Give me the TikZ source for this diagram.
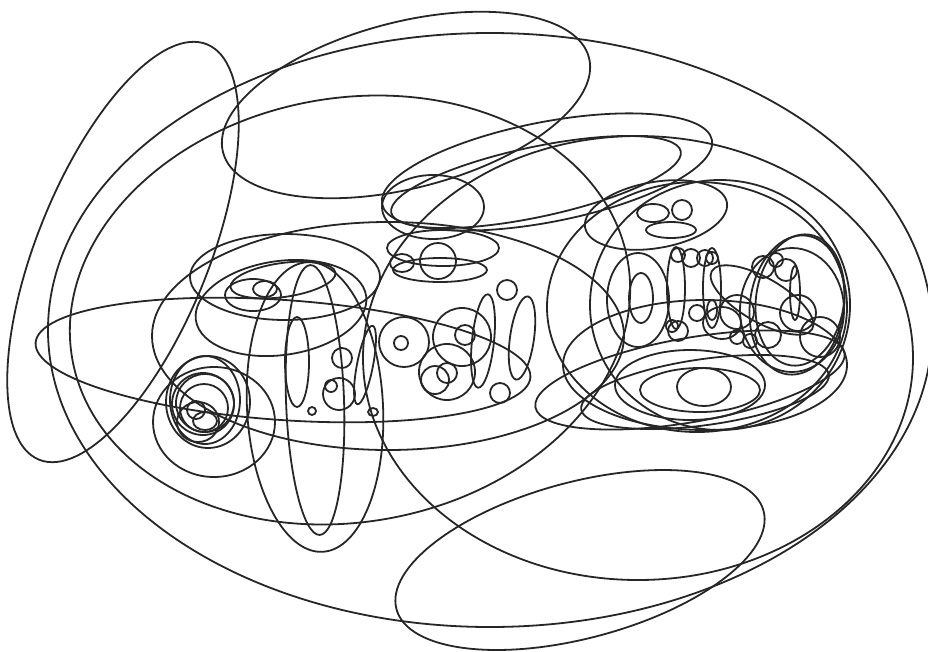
\documentclass[tikz,border=0pt]{standalone}
\usepackage{tikz}

\begin{document}
\begin{tikzpicture}[x=1pt, y=-1pt, line width=1.8pt, color=black!85]
  \useasboundingbox (0,0) rectangle (928,651);
  % large outlines
  \draw (490,330) ellipse [x radius=442, y radius=297];
  \draw[rotate around={10:(350,310)}] (350,310) ellipse [x radius=282, y radius=212];
  \draw[rotate around={68:(123,252)}] (123,252) ellipse [x radius=224, y radius=86];
  \draw[rotate around={14.5:(406,105)}] (406,105) ellipse [x radius=189, y radius=83];
  \draw (638,358) ellipse [x radius=275, y radius=222];
  \draw (388,336) ellipse [x radius=236, y radius=114];
  \draw[rotate around={-4:(283,360)}] (283,360) ellipse [x radius=248, y radius=60];
  \draw[rotate around={15:(580,560)}] (580,560) ellipse [x radius=190, y radius=78];
  % upper middle
  \draw[rotate around={11:(547,172)}] (547,172) ellipse [x radius=168, y radius=50];
  \draw[rotate around={12:(536,182)}] (536,182) ellipse [x radius=148, y radius=35];
  \draw (433,207) ellipse [x radius=51, y radius=32];
  \draw (443,248) ellipse [x radius=56, y radius=18];
  \draw (440,270) ellipse [x radius=47, y radius=12];
  \draw (438,261) circle [radius=18];
  \draw (402,263) ellipse [x radius=12, y radius=9];
  % left group
  \draw (285,277) ellipse [x radius=95, y radius=43];
  \draw[rotate around={8:(281,308)}] (281,308) ellipse [x radius=86, y radius=47];
  \draw[rotate around={8:(283,280)}] (283,280) ellipse [x radius=53, y radius=17];
  \draw (253,295) ellipse [x radius=28, y radius=16];
  \draw (265,289) ellipse [x radius=12, y radius=8];
  \draw[rotate around={93:(315,407)}] (315,407) ellipse [x radius=145, y radius=68];
  \draw[rotate around={92:(315,400)}] (315,400) ellipse [x radius=135, y radius=29];
  \draw (297,362) ellipse [x radius=12, y radius=45];
  \draw[rotate around={79:(365,365)}] (365,365) ellipse [x radius=40, y radius=8];
  \draw (342,358) circle [radius=10];
  \draw (339,394) circle [radius=16];
  \draw (331,386) circle [radius=6];
  \draw (312,411) circle [radius=4];
  \draw (373,412) ellipse [x radius=5, y radius=4];
  % middle cells
  \draw (404,342) circle [radius=25];
  \draw (401,343) circle [radius=7];
  \draw (462,337) circle [radius=29];
  \draw (465,335) circle [radius=10];
  \draw (447,372) circle [radius=28];
  \draw (435,380) circle [radius=14];
  \draw (447,373) circle [radius=10];
  \draw[rotate around={84:(483,341)}] (483,341) ellipse [x radius=47, y radius=11];
  \draw[rotate around={82:(522,338)}] (522,338) ellipse [x radius=42, y radius=12];
  \draw (507,290) circle [radius=10];
  \draw (500,393) circle [radius=10];
  % left cluster
  \draw (214,422) ellipse [x radius=61, y radius=55];
  \draw (208,402) ellipse [x radius=42, y radius=46];
  \draw (205,400) ellipse [x radius=35, y radius=44];
  \draw (203,404) circle [radius=31];
  \draw (205,403) circle [radius=29];
  \draw (204,408) circle [radius=24];
  \draw (198,422) ellipse [x radius=21, y radius=20];
  \draw (196,410) circle [radius=9];
  \draw (205,421) ellipse [x radius=12, y radius=9];
  % right cluster
  \draw (720,305) ellipse [x radius=130, y radius=125];
  \draw (697,307) ellipse [x radius=150, y radius=125];
  \draw[rotate around={10:(656,215)}] (656,215) ellipse [x radius=72, y radius=33];
  \draw (653,213) ellipse [x radius=16, y radius=9];
  \draw (682,210) circle [radius=10];
  \draw (671,230) ellipse [x radius=25, y radius=8];
  \draw (638,300) ellipse [x radius=31, y radius=47];
  \draw (641,298) ellipse [x radius=12, y radius=25];
  \draw (676,288) ellipse [x radius=9, y radius=41];
  \draw (712,288) ellipse [x radius=9, y radius=40];
  \draw (678,255) circle [radius=7];
  \draw (691,258) circle [radius=9];
  \draw (705,258) circle [radius=8];
  \draw (712,258) circle [radius=6];
  \draw (672,326) circle [radius=6];
  \draw (678,331) circle [radius=10];
  \draw (722,323) ellipse [x radius=19, y radius=16];
  \draw (712,310) ellipse [x radius=5, y radius=10];
  \draw (697,313) circle [radius=8];
  \draw (737,312) circle [radius=17];
  \draw[rotate around={-8:(797,305)}] (797,305) ellipse [x radius=47, y radius=70];
  \draw[rotate around={-8:(800,300)}] (800,300) ellipse [x radius=44, y radius=66];
  \draw (792,310) ellipse [x radius=52, y radius=62];
  \draw[rotate around={-30:(762,300)}] (762,300) ellipse [x radius=58, y radius=22];
  \draw (763,267) circle [radius=11];
  \draw (776,260) circle [radius=7];
  \draw (786,270) circle [radius=11];
  \draw (795,293) ellipse [x radius=5, y radius=27];
  \draw (798,313) circle [radius=18];
  \draw (820,337) circle [radius=20];
  \draw (768,335) circle [radius=13];
  \draw (737,337) circle [radius=7];
  \draw (750,341) circle [radius=7];
  % lower right rings
  \draw (705,365) ellipse [x radius=142, y radius=65];
  \draw[rotate around={10:(690,380)}] (690,380) ellipse [x radius=157, y radius=42];
  \draw[rotate around={8:(705,392)}] (705,392) ellipse [x radius=125, y radius=33];
  \draw (690,385) ellipse [x radius=75, y radius=35];
  \draw (700,390) ellipse [x radius=60, y radius=22];
  \draw (704,387) ellipse [x radius=27, y radius=19];
\end{tikzpicture}
\end{document}
